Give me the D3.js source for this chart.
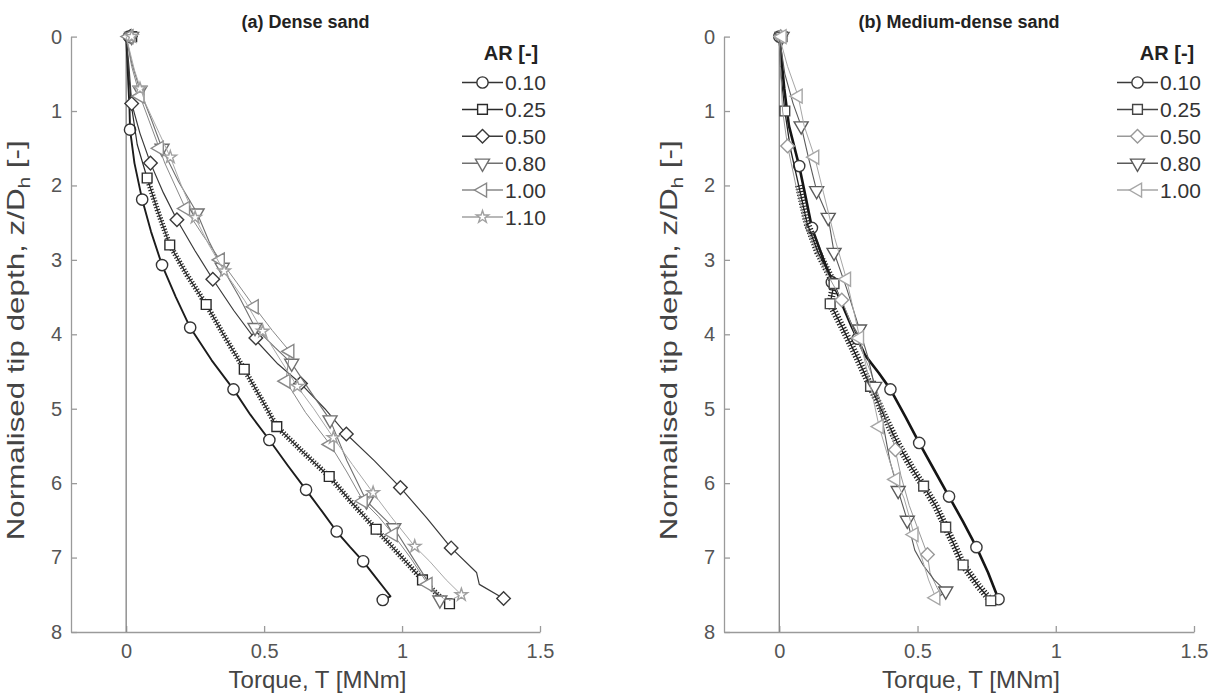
<!DOCTYPE html>
<html><head><meta charset="utf-8">
<script src="https://cdn.jsdelivr.net/npm/d3@7"></script>
<style>
body{margin:0;background:#fff}
svg{display:block;font-family:"Liberation Sans",Arial,Helvetica,sans-serif}
</style>
</head><body>
<svg id="c" width="1219" height="700"></svg>
<script>
// ---------- tick values / labels ----------
const xTicks = [0, 0.5, 1, 1.5];
const yTicks = [0, 1, 2, 3, 4, 5, 6, 7, 8];
const arLabelsDense = ["0.10", "0.25", "0.50", "0.80", "1.00", "1.10"];
const arLabelsMedium = ["0.10", "0.25", "0.50", "0.80", "1.00"];
const panelTitles = ["(a) Dense sand", "(b) Medium-dense sand"];

// ---------- (a) dense sand: [torque MNm, z/Dh] ----------
const dense010 = [[0,0],[0.004,0.3],[0.008,0.65],[0.012,0.95],[0.014,1.25],[0.03,1.7],[0.058,2.19],[0.09,2.62],[0.13,3.07],[0.18,3.5],[0.232,3.91],[0.31,4.35],[0.389,4.74],[0.45,5.08],[0.519,5.42],[0.585,5.76],[0.652,6.09],[0.71,6.38],[0.763,6.65],[0.812,6.86],[0.859,7.05],[0.905,7.27],[0.958,7.52],[0.93,7.57]];
const dense010Mk = [[0.01,0],[0.014,1.25],[0.058,2.19],[0.13,3.07],[0.232,3.91],[0.389,4.74],[0.519,5.42],[0.652,6.09],[0.763,6.65],[0.859,7.05],[0.93,7.57]];
const dense025 = [[0,0],[0.008,0.45],[0.02,0.95],[0.04,1.45],[0.076,1.9],[0.115,2.35],[0.158,2.8],[0.22,3.2],[0.29,3.6],[0.36,4.05],[0.428,4.47],[0.49,4.87],[0.546,5.24],[0.64,5.58],[0.736,5.91],[0.82,6.27],[0.906,6.62],[0.99,6.96],[1.074,7.3],[1.13,7.5],[1.172,7.62]];
const dense025Mk = [[0.02,0],[0.076,1.9],[0.158,2.8],[0.29,3.6],[0.428,4.47],[0.546,5.24],[0.736,5.91],[0.906,6.62],[1.074,7.3],[1.172,7.62]];
const dense050 = [[0,0],[0.01,0.4],[0.02,0.9],[0.05,1.3],[0.088,1.7],[0.135,2.1],[0.184,2.46],[0.25,2.88],[0.314,3.26],[0.39,3.68],[0.47,4.08],[0.55,4.4],[0.632,4.66],[0.72,5.0],[0.798,5.34],[0.9,5.7],[0.994,6.06],[1.09,6.47],[1.178,6.87],[1.27,7.2],[1.28,7.36],[1.368,7.55]];
const dense050Mk = [[0.015,0],[0.02,0.9],[0.088,1.7],[0.184,2.46],[0.314,3.26],[0.47,4.05],[0.632,4.66],[0.798,5.34],[0.994,6.06],[1.178,6.87],[1.368,7.55]];
const dense080 = [[0,0],[0.02,0.35],[0.05,0.72],[0.09,1.1],[0.13,1.5],[0.19,1.95],[0.257,2.37],[0.3,2.75],[0.348,3.1],[0.41,3.5],[0.467,3.91],[0.54,4.18],[0.6,4.39],[0.67,4.78],[0.739,5.15],[0.8,5.7],[0.871,6.24],[0.92,6.42],[0.97,6.6],[1.03,6.95],[1.09,7.3],[1.137,7.57]];
const dense080Mk = [[0.02,0],[0.05,0.72],[0.13,1.5],[0.257,2.37],[0.348,3.1],[0.467,3.91],[0.6,4.39],[0.739,5.15],[0.871,6.24],[0.97,6.6],[1.137,7.57]];
const dense100 = [[0,0],[0.02,0.4],[0.05,0.8],[0.09,1.2],[0.14,1.7],[0.215,2.31],[0.28,2.68],[0.341,3.0],[0.4,3.3],[0.464,3.63],[0.53,3.95],[0.593,4.23],[0.579,4.63],[0.65,5.05],[0.739,5.48],[0.8,5.85],[0.859,6.24],[0.915,6.45],[0.968,6.69],[1.03,7.0],[1.094,7.36],[1.15,7.55]];
const dense100Mk = [[0.01,0],[0.05,0.8],[0.12,1.5],[0.215,2.31],[0.341,3.0],[0.464,3.63],[0.593,4.23],[0.579,4.63],[0.739,5.48],[0.859,6.24],[0.968,6.69],[1.094,7.36]];
const dense110 = [[0,0],[0.03,0.45],[0.07,0.9],[0.12,1.3],[0.16,1.62],[0.2,2.0],[0.25,2.43],[0.3,2.8],[0.355,3.15],[0.43,3.55],[0.495,3.96],[0.56,4.35],[0.62,4.7],[0.68,5.0],[0.751,5.39],[0.82,5.75],[0.895,6.13],[0.96,6.45],[1.046,6.85],[1.1,7.05],[1.16,7.3],[1.215,7.5],[1.17,7.58]];
const dense110Mk = [[0.02,0],[0.05,0.7],[0.16,1.62],[0.25,2.43],[0.355,3.15],[0.495,3.96],[0.62,4.7],[0.751,5.39],[0.895,6.13],[1.046,6.85],[1.215,7.5]];

// ---------- (b) medium-dense sand ----------
const medium010 = [[0,0],[0.008,0.3],[0.018,0.7],[0.035,1.2],[0.072,1.74],[0.095,2.15],[0.118,2.57],[0.16,3.0],[0.21,3.45],[0.26,3.88],[0.31,4.28],[0.36,4.52],[0.402,4.74],[0.455,5.1],[0.506,5.46],[0.56,5.82],[0.614,6.18],[0.665,6.52],[0.713,6.86],[0.755,7.2],[0.793,7.56]];
const medium010Mk = [[0,0],[0.072,1.74],[0.118,2.57],[0.19,3.3],[0.283,4.06],[0.402,4.74],[0.506,5.46],[0.614,6.18],[0.713,6.86],[0.793,7.56]];
const medium025 = [[0,0],[0.006,0.5],[0.02,1.0],[0.04,1.5],[0.07,2.0],[0.1,2.5],[0.14,2.9],[0.198,3.32],[0.184,3.59],[0.23,3.92],[0.28,4.3],[0.33,4.7],[0.38,5.1],[0.43,5.48],[0.48,5.8],[0.522,6.04],[0.565,6.3],[0.602,6.59],[0.635,6.85],[0.665,7.1],[0.72,7.38],[0.765,7.58]];
const medium025Mk = [[0.01,0],[0.02,1.0],[0.198,3.32],[0.184,3.59],[0.33,4.7],[0.522,6.04],[0.602,6.59],[0.665,7.1],[0.765,7.58]];
const medium050 = [[0,0],[0.004,0.4],[0.012,1.0],[0.03,1.47],[0.06,2.0],[0.1,2.6],[0.16,3.1],[0.226,3.54],[0.28,4.05],[0.33,4.5],[0.37,4.95],[0.41,5.4],[0.44,5.9],[0.47,6.3],[0.5,6.6],[0.536,6.96],[0.545,7.2],[0.57,7.4],[0.585,7.5]];
const medium050Mk = [[0.005,0],[0.03,1.47],[0.226,3.54],[0.42,5.55],[0.536,6.96]];
const medium080 = [[0,0],[0.02,0.5],[0.05,0.9],[0.079,1.2],[0.105,1.62],[0.135,2.07],[0.177,2.43],[0.198,2.9],[0.245,3.4],[0.29,3.93],[0.32,4.3],[0.345,4.7],[0.375,5.2],[0.4,5.7],[0.43,6.1],[0.463,6.5],[0.49,6.9],[0.52,7.1],[0.56,7.3],[0.602,7.45],[0.58,7.52]];
const medium080Mk = [[0.01,0],[0.079,1.2],[0.135,2.07],[0.177,2.43],[0.198,2.9],[0.29,3.93],[0.345,4.7],[0.43,6.1],[0.463,6.5],[0.602,7.45]];
const medium100 = [[0,0],[0.03,0.4],[0.068,0.8],[0.09,1.2],[0.128,1.62],[0.16,2.1],[0.2,2.7],[0.243,3.26],[0.27,3.7],[0.3,4.2],[0.33,4.7],[0.361,5.24],[0.39,5.6],[0.421,5.95],[0.451,6.2],[0.47,6.45],[0.487,6.69],[0.515,7.0],[0.54,7.3],[0.566,7.54]];
const medium100Mk = [[0.01,0],[0.068,0.8],[0.128,1.62],[0.243,3.26],[0.29,4.05],[0.361,5.24],[0.421,5.95],[0.487,6.69],[0.566,7.54]];

// ---------- drawing ----------
const svg = d3.select("#c");

function symbolPath(type) {
  switch (type) {
    case "o": return {d: d3.symbol(d3.symbolCircle, 100)(), rot: 0};
    case "s": return {d: d3.symbol(d3.symbolSquare, 95)(), rot: 0};
    case "d": return {d: d3.symbol(d3.symbolSquare, 92)(), rot: 45};
    case "v": return {d: d3.symbol(d3.symbolTriangle, 85)(), rot: 180};
    case "<": return {d: d3.symbol(d3.symbolTriangle, 85)(), rot: -90};
    case "p": return {d: d3.symbol(d3.symbolStar, 48)(), rot: 0};
  }
}

const panels = [
  {
    left: 71, right: 540, title: panelTitles[0], labels: arLabelsDense,
    legX: 462, legTitleX: 511,
    series: [
      {line: dense010, mk: dense010Mk, sym: "o", color: "#1c1c1c", mkColor: "#333", w: 1.9},
      {line: dense025, mk: dense025Mk, sym: "s", color: "#2a2a2a", mkColor: "#2a2a2a", w: 1.2, hatch: 5.5},
      {line: dense050, mk: dense050Mk, sym: "d", color: "#3a3a3a", mkColor: "#3a3a3a", w: 1.2},
      {line: dense080, mk: dense080Mk, sym: "v", color: "#707070", mkColor: "#707070", w: 1.1},
      {line: dense100, mk: dense100Mk, sym: "<", color: "#888", mkColor: "#888", w: 1.0},
      {line: dense110, mk: dense110Mk, sym: "p", color: "#a8a8a8", mkColor: "#a0a0a0", w: 1.0}
    ]
  },
  {
    left: 724, right: 1194, title: panelTitles[1], labels: arLabelsMedium,
    legX: 1117, legTitleX: 1167,
    series: [
      {line: medium010, mk: medium010Mk, sym: "o", color: "#151515", mkColor: "#3a3a3a", w: 2.6},
      {line: medium025, mk: medium025Mk, sym: "s", color: "#222", mkColor: "#444", w: 1.3, hatch: 7.5},
      {line: medium050, mk: medium050Mk, sym: "d", color: "#999", mkColor: "#999", w: 1.0},
      {line: medium080, mk: medium080Mk, sym: "v", color: "#5a5a5a", mkColor: "#5a5a5a", w: 1.1},
      {line: medium100, mk: medium100Mk, sym: "<", color: "#a6a6a6", mkColor: "#a6a6a6", w: 1.0}
    ]
  }
];

const plotTop = 36.6, plotBottom = 632;

panels.forEach((p, pi) => {
  const x = d3.scaleLinear().domain([-0.2, 1.5]).range([p.left, p.right]);
  const y = d3.scaleLinear().domain([0, 8]).range([plotTop, plotBottom]);
  const g = svg.append("g");

  // axes
  const ax = g.append("g").attr("transform", `translate(0,${plotBottom})`)
    .call(d3.axisBottom(x).tickValues(xTicks).tickSizeInner(-6).tickSizeOuter(0).tickPadding(12)
      .tickFormat(d => d3.format("")(d)));
  const ay = g.append("g").attr("transform", `translate(${p.left},0)`)
    .call(d3.axisLeft(y).tickValues(yTicks).tickSizeInner(-6).tickSizeOuter(0).tickPadding(9));
  [ax, ay].forEach(a => {
    a.select(".domain").attr("stroke", "#9a9a9a").attr("stroke-width", 1.3);
    a.selectAll(".tick line").attr("stroke", "#9a9a9a").attr("stroke-width", 1.3);
    a.selectAll(".tick text").attr("fill", "#555").attr("font-size", 20)
      .attr("font-family", "Liberation Sans, Arial, sans-serif");
  });

  // zero line
  g.append("line").attr("x1", x(0)).attr("x2", x(0)).attr("y1", y(0)).attr("y2", y(8))
    .attr("stroke", "#8a8a8a").attr("stroke-width", 1.4);

  // series
  const line = d3.line().x(d => x(d[0])).y(d => y(d[1]));
  p.series.forEach(s => {
    g.append("path").attr("d", line(s.line)).attr("fill", "none")
      .attr("stroke", s.color).attr("stroke-width", s.w).attr("stroke-linejoin", "round");
    if (s.hatch) {
      g.append("path").attr("d", line(s.line.filter(d => d[1] > 1.6))).attr("fill", "none")
        .attr("stroke", s.color).attr("stroke-width", s.hatch).attr("stroke-dasharray", "1.2,1.8");
    }
    const sp = symbolPath(s.sym);
    g.selectAll(null).data(s.mk).enter().append("path")
      .attr("d", sp.d)
      .attr("transform", d => `translate(${x(d[0])},${y(d[1])}) rotate(${sp.rot})`)
      .attr("fill", "#fff").attr("stroke", s.mkColor).attr("stroke-width", 1.4);
  });

  // title
  const cx = (p.left + p.right) / 2;
  g.append("text").attr("x", cx).attr("y", 28).attr("text-anchor", "middle")
    .attr("font-weight", "bold").attr("font-size", 18).attr("fill", "#222").text(p.title);

  // x label
  g.append("text").attr("x", cx + 12).attr("y", 688).attr("text-anchor", "middle")
    .attr("font-size", 24).attr("fill", "#444").text("Torque, T [MNm]");

  // y label
  const yl = g.append("text")
    .attr("transform", `translate(${p.left - 47},${(plotTop + plotBottom) / 2 + 6}) rotate(-90)`)
    .attr("text-anchor", "middle").attr("font-size", 24).attr("fill", "#444")
    .attr("textLength", 400).attr("lengthAdjust", "spacingAndGlyphs");
  yl.append("tspan").text("Normalised tip depth, z/D");
  yl.append("tspan").attr("font-size", 16).attr("dy", 6).text("h");
  yl.append("tspan").attr("dy", -6).text(" [-]");

  // legend
  const lg = g.append("g");
  lg.append("text").attr("x", p.legTitleX).attr("y", 60).attr("text-anchor", "middle")
    .attr("font-weight", "bold").attr("font-size", 20).attr("fill", "#222").text("AR [-]");
  p.labels.forEach((lab, i) => {
    const s = p.series[i];
    const ly = 82.5 + i * 26.9;
    lg.append("line").attr("x1", p.legX).attr("x2", p.legX + 41).attr("y1", ly).attr("y2", ly)
      .attr("stroke", s.mkColor).attr("stroke-width", 1.5);
    const sp = symbolPath(s.sym);
    lg.append("path").attr("d", sp.d)
      .attr("transform", `translate(${p.legX + 20.5},${ly}) rotate(${sp.rot})`)
      .attr("fill", "#fff").attr("stroke", s.mkColor).attr("stroke-width", 1.4);
    lg.append("text").attr("x", p.legX + 43).attr("y", ly + 7.5).attr("font-size", 21)
      .attr("fill", "#333").text(lab);
  });
});
</script>
</body></html>
